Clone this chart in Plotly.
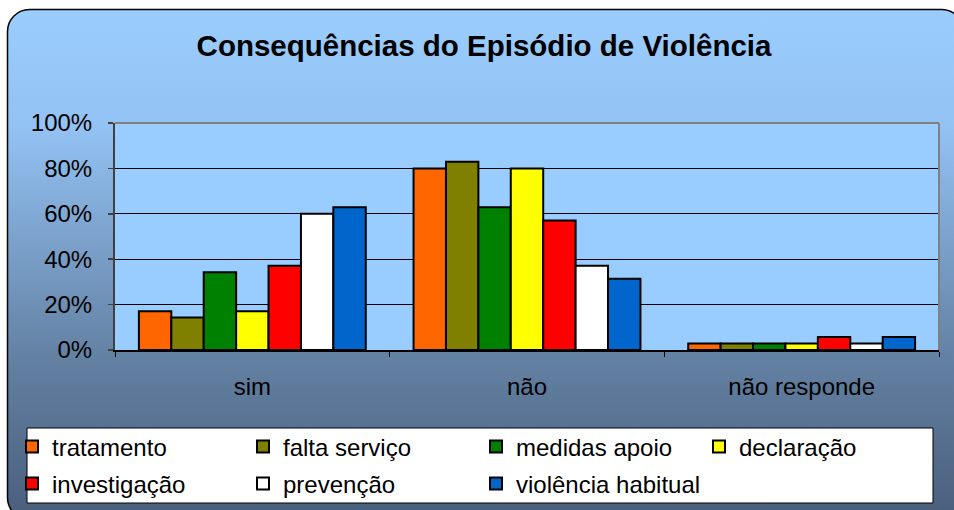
import base64
import plotly.graph_objects as go

# ---------------- data ----------------
categories = ["sim", "não", "não responde"]
series_names = ["tratamento", "falta serviço", "medidas apoio", "declaração",
                "investigação", "prevenção", "violência habitual"]
tratamento = [17.1, 80.0, 2.9]
falta_servico = [14.3, 82.9, 2.9]
medidas_apoio = [34.3, 62.9, 2.9]
declaracao = [17.1, 80.0, 2.9]
investigacao = [37.1, 57.1, 5.7]
prevencao = [60.0, 37.1, 2.9]
violencia_habitual = [62.9, 31.4, 5.7]
series_values = [tratamento, falta_servico, medidas_apoio, declaracao,
                 investigacao, prevencao, violencia_habitual]
y_tick_values = [0, 20, 40, 60, 80, 100]
y_tick_labels = ["0%", "20%", "40%", "60%", "80%", "100%"]
title_text = "Consequências do Episódio de Violência"

# ---------------- styles ----------------
colors = ["#FF6600", "#808000", "#008000", "#FFFF00", "#FF0000", "#FFFFFF", "#0066CC"]
W, H = 954, 510
ML, MR, MT, MB = 115, 15, 123, 160
PW, PH = W - ML - MR, H - MT - MB
FONT = "Liberation Sans, Arial, sans-serif"


def px_x(px):
    return (px - ML) / PW


def px_y(py):
    return (H - MB - py) / PH


# gradient frame background (pure styling)
svg = f"""<svg xmlns='http://www.w3.org/2000/svg' width='{W}' height='{H}' viewBox='0 0 {W} {H}' preserveAspectRatio='none'>
<defs><linearGradient id='g' x1='0' y1='9' x2='0' y2='516' gradientUnits='userSpaceOnUse'>
<stop offset='0' stop-color='#9ACDFE'/>
<stop offset='0.23' stop-color='#93C2F4'/>
<stop offset='0.68' stop-color='#6482A4'/>
<stop offset='1' stop-color='#4A5F7D'/>
</linearGradient></defs>
<rect x='0' y='0' width='{W}' height='{H}' fill='white'/>
<rect x='7.5' y='9.5' width='956' height='510' rx='22' ry='22' fill='url(#g)' stroke='black' stroke-width='1.5'/>
</svg>"""
svg_uri = "data:image/svg+xml;base64," + base64.b64encode(svg.encode()).decode()

fig = go.Figure()

legend_text_x = [52, 283, 516, 739, 52, 283, 516]
legend_row_y = [447, 447, 447, 447, 484, 484, 484]

for i, (name, vals, col) in enumerate(zip(series_names, series_values, colors)):
    lname = "legend" if i == 0 else f"legend{i+1}"
    fig.add_trace(go.Bar(
        x=categories, y=vals, name=name,
        marker=dict(color=col, line=dict(color="black", width=2)),
        legend=lname,
        hoverinfo="skip",
    ))
    fig.layout[lname] = dict(
        x=(legend_text_x[i] - 40) / W, y=1 - legend_row_y[i] / H,
        xanchor="left", yanchor="middle", xref="container", yref="container",
        bgcolor="rgba(0,0,0,0)", borderwidth=0,
        font=dict(family=FONT, size=24, color="black"),
        orientation="h", tracegroupgap=0, itemclick=False, itemdoubleclick=False,
    )

fig.update_layout(
    width=W, height=H, autosize=False,
    margin=dict(l=ML, r=MR, t=MT, b=MB, pad=0),
    paper_bgcolor="white",
    plot_bgcolor="rgba(0,0,0,0)",
    barmode="group", bargap=0.174, bargroupgap=0,
    showlegend=True,
    title=dict(text="<b>" + title_text + "</b>", x=484 / W, xref="container",
               y=1 - 46 / H, yref="container", xanchor="center", yanchor="middle",
               font=dict(family=FONT, size=29.5, color="black")),
    font=dict(family=FONT, color="black"),
    images=[dict(source=svg_uri, xref="paper", yref="paper",
                 x=px_x(0), y=px_y(0), sizex=W / PW, sizey=H / PH,
                 xanchor="left", yanchor="top", sizing="stretch", layer="below")],
    shapes=[
        # plot area background
        dict(type="rect", xref="paper", yref="paper", x0=0, x1=1, y0=0, y1=1,
             fillcolor="#99CCFF", line=dict(width=0), layer="below"),
        # grey top/right border of plot area
        dict(type="line", xref="paper", yref="paper", x0=0, x1=1, y0=1, y1=1,
             line=dict(color="#808080", width=2), layer="above"),
        dict(type="line", xref="paper", yref="paper", x0=1, x1=1, y0=0, y1=1,
             line=dict(color="#808080", width=2), layer="above"),
        # legend box
        dict(type="rect", xref="paper", yref="paper",
             x0=px_x(27), x1=px_x(933), y0=px_y(503), y1=px_y(428),
             fillcolor="white", line=dict(color="black", width=1), layer="below"),
    ],
)

fig.update_yaxes(
    range=[0, 100], tickvals=y_tick_values, ticktext=y_tick_labels,
    showgrid=True, gridcolor="black", gridwidth=1, zeroline=False,
    showline=True, linecolor="#404040", linewidth=2,
    ticks="outside", ticklen=5, tickcolor="#404040", tickwidth=1.5,
    ticklabelstandoff=11,
    tickfont=dict(family=FONT, size=24, color="black"),
    fixedrange=True,
)
fig.update_xaxes(
    showline=True, linecolor="black", linewidth=1.5,
    ticks="outside", tickson="boundaries", ticklen=5, tickcolor="black", tickwidth=1,
    ticklabelstandoff=15,
    tickfont=dict(family=FONT, size=24, color="black"),
    showgrid=False, fixedrange=True,
)

fig.write_html(
    "out.html",
    config={"responsive": False, "displayModeBar": False, "staticPlot": True},
    post_script="document.body.style.margin='0';document.body.style.padding='0';"
                "document.body.style.overflow='hidden';",
)
